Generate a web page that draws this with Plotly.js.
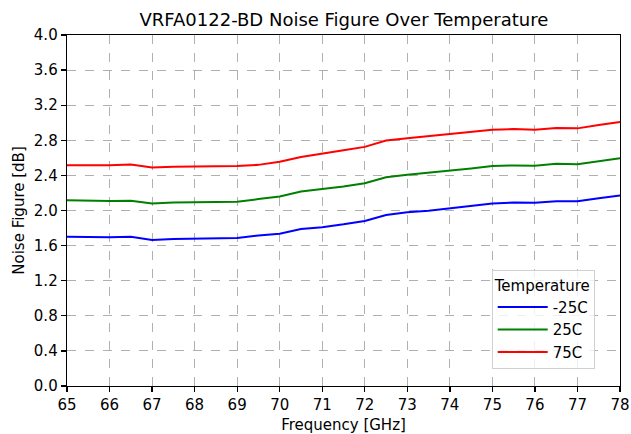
<!DOCTYPE html>
<html>
<head>
<meta charset="utf-8">
<script src="https://cdn.plot.ly/plotly-3.0.1.min.js"></script>
<style>html,body{margin:0;padding:0;background:#fff;}#chart{width:631px;height:434px;}</style>
</head>
<body>
<div id="chart"></div>
<script>
const frequency = [65, 65.5, 66, 66.5, 67, 67.5, 68, 68.5, 69, 69.5, 70, 70.5, 71, 71.5, 72, 72.5, 73, 73.5, 74, 74.5, 75, 75.5, 76, 76.5, 77, 77.5, 78];
const nfMinus25 = [1.70, 1.695, 1.695, 1.70, 1.665, 1.675, 1.68, 1.685, 1.688, 1.714, 1.736, 1.79, 1.81, 1.842, 1.88, 1.948, 1.98, 1.997, 2.027, 2.053, 2.08, 2.09, 2.087, 2.106, 2.106, 2.14, 2.17];
const nf25 = [2.118, 2.11, 2.108, 2.11, 2.08, 2.09, 2.095, 2.10, 2.10, 2.13, 2.159, 2.216, 2.243, 2.273, 2.31, 2.378, 2.408, 2.43, 2.455, 2.48, 2.506, 2.514, 2.51, 2.532, 2.528, 2.56, 2.596];
const nf75 = [2.517, 2.513, 2.515, 2.525, 2.49, 2.50, 2.503, 2.505, 2.506, 2.52, 2.555, 2.61, 2.645, 2.687, 2.725, 2.797, 2.824, 2.85, 2.872, 2.895, 2.92, 2.928, 2.92, 2.94, 2.936, 2.974, 3.008];
const seriesNames = ['-25C', '25C', '75C'];
const seriesColors = ['#0000ff', '#008000', '#ff0000'];
const seriesValues = [nfMinus25, nf25, nf75];
const xTicks = [65, 66, 67, 68, 69, 70, 71, 72, 73, 74, 75, 76, 77, 78];
const yTicks = [0, 0.4, 0.8, 1.2, 1.6, 2.0, 2.4, 2.8, 3.2, 3.6, 4.0];
const yTickLabels = ['0.0', '0.4', '0.8', '1.2', '1.6', '2.0', '2.4', '2.8', '3.2', '3.6', '4.0'];

const traces = seriesValues.map((vals, i) => ({
  x: frequency, y: vals, type: 'scatter', mode: 'lines', name: seriesNames[i],
  line: {color: seriesColors[i], width: 2}
}));

const axisCommon = {
  showline: true, linecolor: '#000', linewidth: 1.3, mirror: true,
  ticks: 'outside', ticklen: 5, tickwidth: 1.3, tickcolor: '#000',
  showgrid: true, gridcolor: '#b0b0b0', griddash: 'dash', gridwidth: 1.1,
  zeroline: false, tickfont: {size: 15, color: '#000'}, ticklabeloverflow: 'allow'
};

const layout = {
  width: 631, height: 434,
  margin: {l: 67, r: 11, t: 35, b: 48},
  paper_bgcolor: '#fff', plot_bgcolor: '#fff',
  font: {family: 'DejaVu Sans', color: '#000'},
  title: {text: 'VRFA0122-BD Noise Figure Over Temperature', font: {size: 18, color: '#000'}, x: 0.545, xanchor: 'center', y: 0.955, yanchor: 'middle'},
  xaxis: Object.assign({}, axisCommon, {range: [65, 78], tickmode: 'array', tickvals: xTicks, ticktext: xTicks.map(String),
    title: {text: 'Frequency [GHz]', font: {size: 15}, standoff: 7}}),
  yaxis: Object.assign({}, axisCommon, {range: [0, 4], tickmode: 'array', tickvals: yTicks, ticktext: yTickLabels,
    title: {text: 'Noise Figure [dB]', font: {size: 15}, standoff: 5}}),
  showlegend: true,
  legend: {
    x: 0.768, y: 0.33, xanchor: 'left', yanchor: 'top',
    bgcolor: 'rgba(255,255,255,0.8)', bordercolor: '#d0d0d0', borderwidth: 1,
    font: {size: 15, color: '#000'},
    title: {text: 'Temperature', font: {size: 15}, side: 'top'},
    itemwidth: 50, tracegroupgap: 0
  }
};

Plotly.newPlot('chart', traces, layout, {displayModeBar: false, staticPlot: true});
</script>
</body>
</html>
